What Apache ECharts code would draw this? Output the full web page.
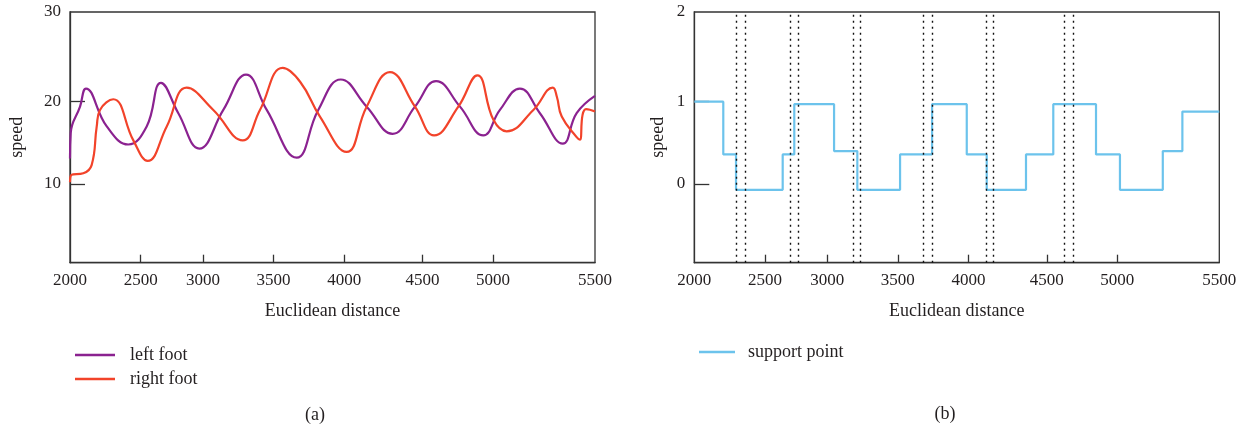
<!DOCTYPE html>
<html>
<head>
<meta charset="utf-8">
<script src="https://cdn.jsdelivr.net/npm/echarts@6/dist/echarts.min.js"></script>
<style>
  html, body { margin: 0; padding: 0; background: #fff; }
  #main { width: 1256px; height: 430px; }
</style>
</head>
<body>
<div id="main"></div>
<script>
// tick labels of the distance axis
const xTicks = [2000, 2500, 3000, 3500, 4000, 4500, 5000, 5500];

// (a) left foot speed: [distance, speed]
const leftFoot = [
  [2000, 13.1], [2005, 16.2], [2071, 19.4], [2113, 21.6], [2260, 17.0],
  [2412, 14.8], [2548, 17.0], [2663, 22.3], [2802, 18.6], [2970, 14.3],
  [3144, 19.0], [3305, 23.3], [3452, 19.0], [3664, 13.2], [3816, 19.0],
  [3975, 22.7], [4143, 19.4], [4309, 16.1], [4452, 19.4], [4596, 22.5],
  [4766, 19.4], [4931, 15.9], [5034, 19.0], [5132, 21.6], [5230, 18.6],
  [5342, 14.9], [5410, 18.6], [5500, 20.7]
];

// (a) right foot speed: [distance, speed]
const rightFoot = [
  [2000, 10.2], [2010, 11.1], [2094, 11.3], [2153, 12.3], [2189, 17.0],
  [2212, 19.0], [2306, 20.3], [2448, 15.3], [2556, 12.8], [2709, 17.0],
  [2869, 21.7], [3073, 19.0], [3282, 15.3], [3404, 19.0], [3565, 24.1],
  [3689, 22.4], [3828, 18.2], [4015, 13.9], [4143, 19.4], [4292, 23.6],
  [4452, 19.4], [4582, 15.9], [4754, 19.4], [4889, 23.2], [5002, 17.8],
  [5067, 16.4], [5198, 19.0], [5293, 21.7], [5313, 20.6], [5337, 18.2],
  [5410, 15.7], [5426, 15.4], [5439, 18.4], [5456, 19.1], [5500, 18.8]
];

// (b) support point level, each value holds until the next distance
const supportPoint = [
  [2000, 1.0], [2205, 0.36], [2295, -0.07], [2642, 0.36], [2735, 0.97],
  [3048, 0.40], [3213, -0.07], [3516, 0.36], [3742, 0.97], [3987, 0.36],
  [4116, -0.07], [4367, 0.36], [4546, 0.97], [4849, 0.36], [5013, -0.07],
  [5223, 0.40], [5319, 0.88], [5500, 0.88]
];

// (b) dotted vertical markers (distance)
const markers = [2295, 2361, 2706, 2770, 3185, 3237, 3683, 3742, 4116, 4158, 4627, 4688];

// the printed distance axis is not evenly spaced: offset of each tick along the axis
const tickOffsets = [0, 70.7, 133, 203.5, 274.3, 352.5, 423, 525];

function toAxis (d) {
  for (let i = 0; i < xTicks.length - 1; i++) {
    if (d <= xTicks[i + 1] || i === xTicks.length - 2) {
      const t = (d - xTicks[i]) / (xTicks[i + 1] - xTicks[i]);
      return tickOffsets[i] + t * (tickOffsets[i + 1] - tickOffsets[i]);
    }
  }
}

function tickLabel (v) {
  let best = 0;
  tickOffsets.forEach((o, i) => {
    if (Math.abs(o - v) < Math.abs(tickOffsets[best] - v)) best = i;
  });
  return String(xTicks[best]);
}

const font = '"Liberation Serif", "DejaVu Serif", serif';
const ink = '#231f20';
const axisColor = '#333';

function xAxisOf (gridIndex) {
  return {
    type: 'value',
    gridIndex: gridIndex,
    min: 0,
    max: 525,
    name: 'Euclidean distance',
    nameLocation: 'middle',
    nameGap: 40,
    nameTextStyle: { fontFamily: font, fontSize: 18, color: ink },
    axisLine: { show: true, onZero: false, lineStyle: { color: axisColor, width: 1.3 } },
    axisTick: {
      show: true, inside: true, length: 8,
      customValues: tickOffsets.slice(1, -1),
      lineStyle: { color: axisColor, width: 1.3 }
    },
    axisLabel: {
      customValues: tickOffsets,
      formatter: tickLabel,
      margin: 9,
      fontFamily: font, fontSize: 17, color: ink
    },
    splitLine: { show: false }
  };
}

// labels at the ticks plus one at the top edge of the frame
function yAxisOf (gridIndex, min, max, ticks, gap, step) {
  return {
    type: 'value',
    gridIndex: gridIndex,
    min: min,
    max: max,
    name: 'speed',
    nameLocation: 'middle',
    nameRotate: 90,
    nameGap: gap,
    nameTextStyle: { fontFamily: font, fontSize: 18, color: ink },
    axisLine: { show: true, onZero: false, lineStyle: { color: axisColor, width: 1.3 } },
    axisTick: {
      show: true, inside: true, length: 15,
      customValues: ticks,
      lineStyle: { color: axisColor, width: 1.3 }
    },
    axisLabel: {
      customValues: ticks.concat([max]),
      formatter: (v) => String(Math.round(v / step) * step),
      margin: 9,
      fontFamily: font, fontSize: 17, color: ink
    },
    splitLine: { show: false }
  };
}

const legendText = { fontFamily: font, fontSize: 18, color: ink };

const option = {
  animation: false,
  textStyle: { fontFamily: font },
  title: [
    { text: '(a)', left: 310, top: 401, textAlign: 'center',
      textStyle: { fontFamily: font, fontSize: 18, fontWeight: 'normal', color: ink } },
    { text: '(b)', left: 940, top: 400, textAlign: 'center',
      textStyle: { fontFamily: font, fontSize: 18, fontWeight: 'normal', color: ink } }
  ],
  grid: [
    { left: 70, top: 12, width: 525, height: 250.7, show: true, borderColor: axisColor, borderWidth: 1.3 },
    { left: 694.3, top: 12, width: 525, height: 250.7, show: true, borderColor: axisColor, borderWidth: 1.3 }
  ],
  legend: [
    {
      data: ['left foot', 'right foot'],
      orient: 'vertical',
      left: 70, top: 341,
      icon: 'rect',
      itemWidth: 40, itemHeight: 2.5, itemGap: 6,
      textStyle: Object.assign({ padding: [0, 0, 0, 10] }, legendText)
    },
    {
      data: ['support point'],
      orient: 'vertical',
      left: 694, top: 338,
      icon: 'rect',
      itemWidth: 36, itemHeight: 2.5,
      textStyle: Object.assign({ padding: [0, 0, 0, 8] }, legendText)
    }
  ],
  xAxis: [xAxisOf(0), xAxisOf(1)],
  yAxis: [
    yAxisOf(0, 0.44, 30.9, [10, 20], 44, 10),
    yAxisOf(1, -0.956, 2.09, [0, 1], 27, 1)
  ],
  series: [
    {
      name: 'left foot',
      type: 'line',
      xAxisIndex: 0, yAxisIndex: 0,
      smooth: 0.45,
      symbol: 'none',
      color: '#8b2290',
      lineStyle: { color: '#8b2290', width: 2.2 },
      data: leftFoot.map(p => [toAxis(p[0]), p[1]])
    },
    {
      name: 'right foot',
      type: 'line',
      xAxisIndex: 0, yAxisIndex: 0,
      smooth: 0.45,
      symbol: 'none',
      color: '#f2432a',
      lineStyle: { color: '#f2432a', width: 2.2 },
      data: rightFoot.map(p => [toAxis(p[0]), p[1]])
    },
    {
      name: 'support point',
      type: 'line',
      xAxisIndex: 1, yAxisIndex: 1,
      step: 'end',
      symbol: 'none',
      color: '#6cc3ec',
      lineStyle: { color: '#6cc3ec', width: 2.2 },
      data: supportPoint.map(p => [toAxis(p[0]), p[1]]),
      markLine: {
        silent: true,
        symbol: ['none', 'none'],
        label: { show: false },
        lineStyle: { color: '#111', type: [2, 4], width: 1.4 },
        data: markers.map(d => ({ xAxis: toAxis(d) }))
      }
    }
  ]
};

const myChart = echarts.init(document.getElementById('main'));
myChart.setOption(option);
</script>
</body>
</html>
